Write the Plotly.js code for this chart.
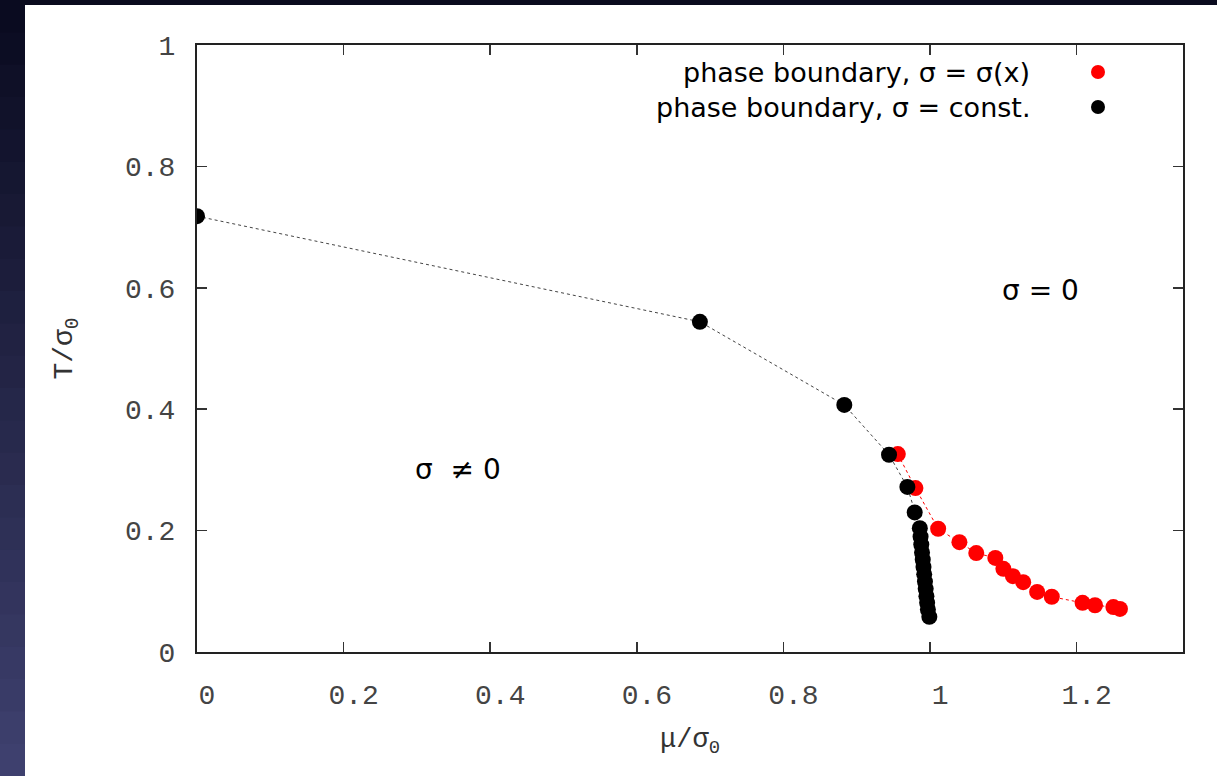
<!DOCTYPE html>
<html>
<head>
<meta charset="utf-8">
<script src="https://cdn.plot.ly/plotly-3.0.1.min.js"></script>
<style>html,body{margin:0;padding:0;background:#fff;}#chart{width:1217px;height:776px;}</style>
</head>
<body>
<div id="chart"></div>
<script>
// phase boundary, sigma = const. (black)
const constMu = [0.000, 0.686, 0.883, 0.944, 0.969, 0.979, 0.986, 0.987, 0.988, 0.989, 0.990, 0.991, 0.992, 0.993, 0.994, 0.995, 0.996, 0.997, 0.999];
const constT  = [0.718, 0.544, 0.407, 0.325, 0.272, 0.230, 0.204, 0.190, 0.177, 0.164, 0.152, 0.140, 0.128, 0.116, 0.104, 0.092, 0.081, 0.070, 0.058];
// phase boundary, sigma = sigma(x) (red)
const varMu = [0.956, 0.980, 1.011, 1.040, 1.063, 1.089, 1.100, 1.113, 1.127, 1.146, 1.166, 1.208, 1.225, 1.250, 1.259];
const varT  = [0.326, 0.270, 0.203, 0.181, 0.163, 0.155, 0.137, 0.125, 0.115, 0.099, 0.091, 0.081, 0.077, 0.074, 0.071];

const xTicks = [0, 0.2, 0.4, 0.6, 0.8, 1, 1.2];
const xTickText = ['0', '0.2', '0.4', '0.6', '0.8', '1', '1.2'];
const yTicks = [0, 0.2, 0.4, 0.6, 0.8, 1];
const yTickText = ['0', '0.2', '0.4', '0.6', '0.8', '1'];

const legendNames = ['phase boundary, σ = σ(x)', 'phase boundary, σ = const.'];

const mono = 'Liberation Mono, Courier New, monospace';
const sans = 'DejaVu Sans, Liberation Sans, Arial, sans-serif';

const traces = [
  {x: varMu, y: varT, type: 'scatter', mode: 'lines+markers', name: legendNames[0],
   line: {color: '#ff0000', width: 1, dash: 'dot'},
   marker: {color: '#ff0000', size: 16}},
  {x: constMu, y: constT, type: 'scatter', mode: 'lines+markers', name: legendNames[1],
   line: {color: '#444444', width: 1, dash: 'dot'},
   marker: {color: '#000000', size: 16}}
];

// plot-area geometry (px) for paper-coordinate decorations
const L = 197, R = 1183, T = 45, B = 652;
const px = v => (v - L) / (R - L);
const py = v => (B - v) / (B - T);

const shapes = [];
// white page
shapes.push({type: 'rect', xref: 'paper', yref: 'paper', x0: px(25), x1: px(1217), y0: py(776), y1: py(5),
  fillcolor: '#ffffff', line: {width: 0}, layer: 'below'});
// left dark strip gradient (overlapping bands)
const nb = 24;
for (let i = 0; i < nb; i++) {
  const f = i / (nb - 1);
  const r = Math.round(10 + f * (62 - 10)), g = Math.round(11 + f * (64 - 11)), b = Math.round(32 + f * (110 - 32));
  shapes.push({type: 'rect', xref: 'paper', yref: 'paper', x0: px(0), x1: px(25),
    y0: py(776 * (i + 1) / nb + 2), y1: py(776 * i / nb),
    fillcolor: `rgb(${r},${g},${b})`, line: {width: 0}, layer: 'below'});
}
// top dark strip
shapes.push({type: 'rect', xref: 'paper', yref: 'paper', x0: px(20), x1: px(1217), y0: py(5), y1: py(0),
  fillcolor: '#0a0b1e', line: {width: 0}, layer: 'below'});
// legend keys
shapes.push({type: 'circle', xref: 'paper', yref: 'paper', x0: px(1091), x1: px(1105), y0: py(79), y1: py(65),
  fillcolor: '#ff0000', line: {width: 0}});
shapes.push({type: 'circle', xref: 'paper', yref: 'paper', x0: px(1091), x1: px(1105), y0: py(114), y1: py(100),
  fillcolor: '#000000', line: {width: 0}});

const annotations = [
  {xref: 'paper', yref: 'paper', x: px(1032), y: py(72), xanchor: 'right', yanchor: 'middle', showarrow: false,
   text: legendNames[0], font: {family: sans, size: 27, color: '#000'}},
  {xref: 'paper', yref: 'paper', x: px(1032), y: py(107), xanchor: 'right', yanchor: 'middle', showarrow: false,
   text: legendNames[1], font: {family: sans, size: 27, color: '#000'}},
  {xref: 'x', yref: 'y', x: 0.356, y: 0.30, showarrow: false, text: 'σ  ≠ 0',
   font: {family: sans, size: 28, color: '#000'}},
  {xref: 'x', yref: 'y', x: 1.15, y: 0.596, showarrow: false, text: 'σ = 0',
   font: {family: sans, size: 28, color: '#000'}}
];

const layout = {
  width: 1217, height: 776,
  margin: {l: L, r: 1217 - R, t: T, b: 776 - B},
  paper_bgcolor: '#ffffff', plot_bgcolor: 'rgba(0,0,0,0)',
  showlegend: false,
  xaxis: {range: [0, 1.345], tickvals: xTicks, ticktext: xTickText,
    ticks: 'inside', ticklen: 10, tickwidth: 1.5, tickcolor: '#333',
    showline: true, linecolor: '#222', linewidth: 2, mirror: 'ticks',
    showgrid: false, zeroline: false, ticklabelshift: 10, ticklabelstandoff: 16,
    tickfont: {family: mono, size: 28, color: '#444'},
    title: {text: 'μ/σ<sub>0</sub>', font: {family: mono, size: 27, color: '#333'}, standoff: 18}},
  yaxis: {range: [0, 1], tickvals: yTicks, ticktext: yTickText,
    ticks: 'inside', ticklen: 10, tickwidth: 1.5, tickcolor: '#333',
    showline: true, linecolor: '#222', linewidth: 2, mirror: 'ticks',
    showgrid: false, zeroline: false, ticklabelstandoff: 14,
    tickfont: {family: mono, size: 28, color: '#444'},
    title: {text: 'T/σ<sub>0</sub>', font: {family: mono, size: 28, color: '#333'}, standoff: 44}},
  shapes: shapes,
  annotations: annotations
};

Plotly.newPlot('chart', traces, layout, {staticPlot: true, displayModeBar: false});
</script>
</body>
</html>
